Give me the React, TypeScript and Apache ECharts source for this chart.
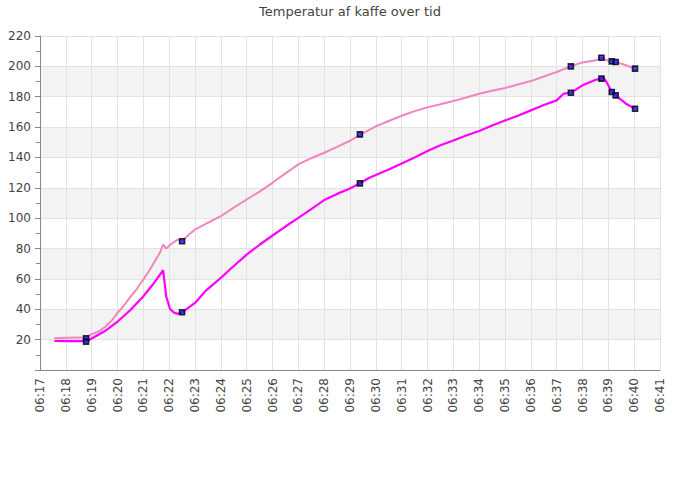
import React, { useEffect, useRef } from "react";
import * as echarts from "echarts";

const TITLE = "Temperatur af kaffe over tid";

// Upper (lighter pink) series
const upperTimes = [
  "06:17:33", "06:18:00", "06:18:30", "06:18:47", "06:18:58", "06:19:18", "06:19:33", "06:19:48",
  "06:20:01", "06:20:15", "06:20:28", "06:20:45", "06:21:00", "06:21:15", "06:21:29", "06:21:39",
  "06:21:46", "06:21:53", "06:22:00", "06:22:08", "06:22:20", "06:22:30", "06:22:45", "06:23:00",
  "06:23:30", "06:24:00", "06:24:30", "06:25:00", "06:25:30", "06:26:00", "06:26:30", "06:27:00",
  "06:27:30", "06:28:00", "06:28:30", "06:29:00", "06:29:23", "06:30:00", "06:30:30", "06:31:00",
  "06:31:30", "06:32:00", "06:32:30", "06:33:00", "06:33:30", "06:34:00", "06:34:30", "06:35:00",
  "06:35:30", "06:36:00", "06:36:30", "06:37:00", "06:37:33", "06:38:00", "06:38:31", "06:38:44",
  "06:39:02", "06:39:08", "06:39:17", "06:39:41", "06:40:02",
];
const upperValues = [
  20.9, 21.2, 21.4, 21.5, 23.3, 25.5, 28.8, 33,
  38, 42.5, 47.5, 53.5, 59.6, 66, 72.7, 77.5,
  82.6, 80, 81.8, 83.7, 85.9, 84.8, 89, 92.5,
  97, 101.3, 107, 112.3, 117.5, 123.3, 129.5, 135.4,
  139.5, 143.1, 147, 151, 154.8, 160.5, 164, 167.5,
  170.5, 173, 175, 177.2, 179.5, 182, 184, 185.7,
  188, 190.3, 193.3, 196.3, 200, 202.6, 204, 205.7,
  203.3, 203.3, 202.9, 200.7, 198.5,
];

// Lower (magenta) series
const lowerTimes = [
  "06:17:33", "06:18:00", "06:18:30", "06:18:47", "06:18:58", "06:19:30", "06:20:01", "06:20:30",
  "06:21:00", "06:21:24", "06:21:46", "06:21:49", "06:21:53", "06:22:02", "06:22:12", "06:22:21",
  "06:22:30", "06:23:00", "06:23:26", "06:24:00", "06:24:30", "06:25:00", "06:25:30", "06:26:00",
  "06:26:30", "06:27:00", "06:27:30", "06:28:00", "06:28:30", "06:29:00", "06:29:23", "06:29:44",
  "06:30:00", "06:30:30", "06:31:00", "06:31:30", "06:32:00", "06:32:30", "06:33:00", "06:33:30",
  "06:34:00", "06:34:30", "06:35:00", "06:35:30", "06:36:00", "06:36:30", "06:37:00", "06:37:16",
  "06:37:33", "06:38:00", "06:38:31", "06:38:44", "06:38:48", "06:38:58", "06:39:08", "06:39:17",
  "06:39:41", "06:40:02",
];
const lowerValues = [
  19.1, 19.0, 19.0, 19.0, 20.4, 25.5, 32.1, 39.5,
  48.6, 57, 65.7, 58.5, 48.6, 40.2, 37.6, 37.0,
  38.0, 44.2, 52.5, 60.7, 68.5, 76.0, 82.5, 88.6,
  94.5, 100.2, 106, 111.9, 116, 119.5, 123, 126.5,
  128.5, 132, 136, 140, 144.3, 148, 151.2, 154.5,
  157.4, 161, 164.4, 167.5, 171, 174.5, 177.6, 182,
  182.6, 187.5, 191.2, 191.9, 193, 188.6, 183.1, 180.9,
  175.4, 172.1,
];

// Marked samples
const markerTimes = ["06:18:47", "06:22:30", "06:29:23", "06:37:33", "06:38:44", "06:39:08", "06:39:17", "06:40:02"];
const upperMarkerValues = [20.9, 84.8, 155.2, 200, 205.7, 203.3, 202.9, 198.5];
const lowerMarkerValues = [18.7, 38.0, 122.9, 182.6, 191.9, 183.1, 180.9, 172.1];

// x-axis range in minutes of the hour 06
const X_MIN = 17;
const X_MAX = 41;

const toMin = (s: string) => {
  const [, m, sec] = s.split(":").map(Number);
  return m + sec / 60;
};
const pair = (times: string[], vals: number[]) => times.map((t, i) => [toMin(t), vals[i]]);

const FONT = "DejaVu Sans";

export default function App() {
  const ref = useRef<HTMLDivElement>(null);
  useEffect(() => {
    document.body.style.margin = "0";
    const chart = echarts.init(ref.current!, null, { renderer: "svg" });
    chart.setOption({
      animation: false,
      backgroundColor: "#ffffff",
      title: {
        text: TITLE,
        left: "center",
        top: 0,
        textStyle: { fontFamily: FONT, fontSize: 13, fontWeight: "normal", color: "#444" },
      },
      grid: { left: 40, right: 40, top: 36, bottom: 130 },
      xAxis: {
        type: "value",
        min: X_MIN,
        max: X_MAX,
        interval: 1,
        axisLine: { show: true, onZero: false, lineStyle: { color: "#888" } },
        axisTick: { show: false },
        splitLine: { show: true, lineStyle: { color: "#e2e2e2" } },
        axisLabel: {
          rotate: 90,
          margin: 8,
          color: "#444",
          fontFamily: FONT,
          fontSize: 12,
          formatter: (v: number) => "06:" + String(Math.round(v)).padStart(2, "0"),
        },
      },
      yAxis: {
        type: "value",
        min: 0,
        max: 220,
        interval: 20,
        axisLine: { show: true, lineStyle: { color: "#888" } },
        axisTick: { show: true, length: 5, lineStyle: { color: "#888" } },
        minorTick: { show: true, splitNumber: 2, length: 4, lineStyle: { color: "#888" } },
        splitLine: { show: true, lineStyle: { color: "#e2e2e2" } },
        splitArea: { show: true, areaStyle: { color: ["#ffffff", "#f3f3f3"] } },
        axisLabel: {
          showMinLabel: false,
          margin: 9,
          color: "#444",
          fontFamily: FONT,
          fontSize: 12,
        },
      },
      series: [
        {
          type: "line",
          data: pair(upperTimes, upperValues),
          showSymbol: false,
          lineStyle: { color: "#f085bf", width: 2 },
          itemStyle: { color: "#f085bf" },
          z: 2,
        },
        {
          type: "line",
          data: pair(lowerTimes, lowerValues),
          showSymbol: false,
          lineStyle: { color: "#ff00ff", width: 2.2 },
          itemStyle: { color: "#ff00ff" },
          z: 3,
        },
        {
          type: "scatter",
          data: pair(markerTimes, upperMarkerValues),
          symbol: "rect",
          symbolSize: 5,
          itemStyle: { color: "#1a1aff", borderColor: "#000", borderWidth: 1.6 },
          z: 4,
        },
        {
          type: "scatter",
          data: pair(markerTimes, lowerMarkerValues),
          symbol: "rect",
          symbolSize: 5,
          itemStyle: { color: "#1a1aff", borderColor: "#000", borderWidth: 1.6 },
          z: 4,
        },
      ],
    });
    return () => chart.dispose();
  }, []);
  return <div ref={ref} style={{ width: 700, height: 500 }} />;
}
